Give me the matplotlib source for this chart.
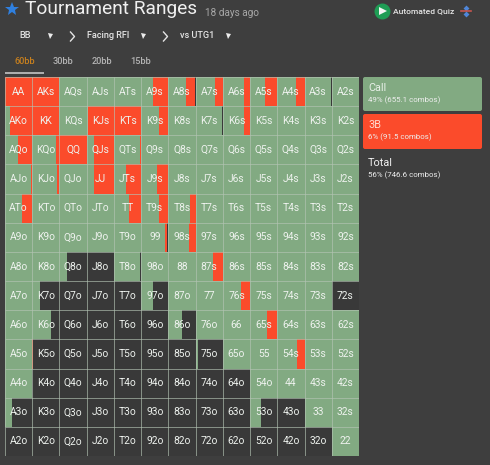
from matplotlib import pyplot as plt
from matplotlib.patches import FancyBboxPatch
import numpy as np

plt.rcParams['font.family'] = ['Roboto', 'DejaVu Sans']

ranks = ["A", "K", "Q", "J", "T", "9", "8", "7", "6", "5", "4", "3", "2"]

#Share of each cell that calls, row by row (order of bars in a cell: call, 3B, fold)
call_freq = [
    [0, 0, 1, 1, .98, .45, .65, .72, .78, .55, .70, .98, 1],
    [.17, 0, 1, .03, 0, .66, 1, .96, .78, 1, 1, 1, 1],
    [.48, .88, 0, .28, .95, 1, 1, 1, 1, 1, 1, 1, 1],
    [.95, .90, 1, .28, .44, .60, 1, 1, 1, 1, 1, 1, 1],
    [.62, .97, 1, 1, .55, .66, .78, 1, 1, 1, 1, 1, 1],
    [1, 1, 1, 1, 1, .86, .75, 1, 1, 1, 1, 1, 1],
    [1, 1, .27, 0, .95, .97, 1, .63, 1, 1, 1, 1, 1],
    [1, .30, 0, 0, 0, .45, 1, 1, .67, 1, 1, 1, 0],
    [1, .70, 0, 0, 0, 0, .50, 1, 1, .62, 1, 1, 1],
    [1, 0, 0, 0, 0, 0, 0, .08, 1, 1, .72, 1, 1],
    [1, 0, 0, 0, 0, 0, 0, 0, 0, 1, 1, 1, 1],
    [.27, 0, 0, 0, 0, 0, 0, 0, 0, .40, 0, 1, 1],
    [0, 0, 0, 0, 0, 0, 0, 0, 0, 0, 0, 0, 1],
]

#Share of each cell that 3bets
raise_freq = [
    [1, 1, 0, 0, .02, .52, .33, .28, .22, .45, .30, 0, 0],
    [.83, 1, 0, .97, 1, .34, 0, 0, .22, 0, 0, 0, 0],
    [.52, .10, 1, .72, .03, 0, 0, 0, 0, 0, 0, 0, 0],
    [.04, .09, 0, .72, .56, .38, 0, 0, 0, 0, 0, 0, 0],
    [.37, 0, 0, 0, .43, .32, .22, 0, 0, 0, 0, 0, 0],
    [0, 0, 0, 0, 0, .10, .25, 0, 0, 0, 0, 0, 0],
    [0, 0, 0, 0, 0, 0, 0, .37, 0, 0, 0, 0, 0],
    [0, 0, 0, 0, 0, 0, 0, 0, .33, 0, 0, 0, 0],
    [0, 0, 0, 0, 0, 0, 0, 0, 0, .38, 0, 0, 0],
    [0, .04, 0, 0, 0, 0, 0, 0, 0, 0, .28, 0, 0],
    [0, 0, 0, 0, 0, 0, 0, 0, 0, 0, 0, 0, 0],
    [0, 0, 0, 0, 0, 0, 0, 0, 0, 0, 0, 0, 0],
    [0, 0, 0, 0, 0, 0, 0, 0, 0, 0, 0, 0, 0],
]

menu_labels = ["BB", "Facing RFI", "vs UTG1"]
stack_labels = ["60bb", "30bb", "20bb", "15bb"]
legend_names = ["Call", "3B", "Total"]
legend_details = ["49% (655.1 combos)", "6% (91.5 combos)", "56% (746.6 combos)"]

bg = "#3e3e3e"
dark_cell = "#393939"
green = "#82aa82"
red = "#fb4b2b"
line_col = "#b4c4b4"
W, H = 490, 465


def hand_name(r, c):
    if r == c:
        return ranks[r] + ranks[c]
    if c > r:
        return ranks[r] + ranks[c] + "s"
    return ranks[c] + ranks[r] + "o"


fig = plt.figure(figsize=(W / 100, H / 100), dpi=100, facecolor=bg)

#Range grid, one unit per cell
ax = fig.add_axes([5 / W, 1 - 456 / H, 354 / W, 379 / H])
ax.set_facecolor(dark_cell)
ax.set_xlim(0, 13)
ax.set_ylim(13, 0)
ax.axis("off")

call_arr = np.array(call_freq)
raise_arr = np.array(raise_freq)
rows = np.arange(13)
for c in range(13):
    ax.barh(rows, np.ones(13), left=c, height=1, align="edge", color=dark_cell, linewidth=0)
    ax.barh(rows, call_arr[:, c], left=c, height=1, align="edge", color=green, linewidth=0)
    ax.barh(rows, raise_arr[:, c], left=c + call_arr[:, c], height=1, align="edge", color=red, linewidth=0)

ax.vlines(np.arange(14), 0, 13, color=line_col, linewidth=0.7, alpha=0.65)
ax.hlines(np.arange(14), 0, 13, color=line_col, linewidth=0.7, alpha=0.65)

for r in range(13):
    for c in range(13):
        ax.text(c + 0.5, r + 0.5, hand_name(r, c), color="#eef2ee", fontsize=7.4,
                ha="center", va="center")

#Everything around the grid is placed in pixels of the picture
ui = fig.add_axes([0, 0, 1, 1], facecolor="none")
ui.set_xlim(0, W)
ui.set_ylim(H, 0)
ui.axis("off")

#Header
ui.plot(12, 9.5, marker="*", markersize=10, color="#2f80e0", markeredgewidth=0)
ui.text(25, 9.5, "Tournament Ranges", color="#f0f0f0", fontsize=13.8, va="center")
ui.text(205, 13.5, "18 days ago", color="#a8a8a8", fontsize=7.2, va="center")
ui.plot(382, 11.5, marker="o", markersize=11.5, color="#1f9d55", markeredgewidth=0)
ui.plot(383, 11.5, marker=">", markersize=6, color="#f5f5f5", markeredgewidth=0)
ui.text(393, 11.5, "Automated Quiz", color="#e6e6e6", fontsize=6.1, va="center", fontweight="medium")
ui.plot(466, 8, marker="D", markersize=3, color="#4f86d8", markeredgewidth=0)
ui.plot(466, 14, marker="D", markersize=3, color="#4f86d8", markeredgewidth=0)
ui.plot([461, 471], [11.5, 11.5], color="#c8564f", linewidth=1.2)

#Menu row
menu_x = [19, 86.5, 179.5]
caret_x = [50, 142.5, 227.5]
chevron_x = [72.5, 165.5]
for x, label in zip(menu_x, menu_labels):
    ui.text(x, 36, label, color="#e4e4e4", fontsize=6.6, va="center", fontweight="medium")
for x in caret_x:
    ui.plot(x, 36, marker="v", markersize=3.6, color="#ececec", markeredgewidth=0)
for x in chevron_x:
    ui.plot([x - 2, x + 2, x - 2], [32, 36.5, 41], color="#e4e4e4", linewidth=1)

#Stack depth tabs
tab_x = [24.5, 63, 102, 141]
for i, (x, label) in enumerate(zip(tab_x, stack_labels)):
    ui.text(x, 61, label, color="#c8801e" if i == 0 else "#b4b4b4", fontsize=6.6,
            ha="center", va="center", fontweight="medium")
ui.plot([5, 44], [73.5, 73.5], color="#c4c4c4", linewidth=1.2, solid_capstyle="butt")

#Legend panel
box_y = [(77, 111), (114, 149)]
box_col = [green, red]
for (y0, y1), col in zip(box_y, box_col):
    ui.add_patch(FancyBboxPatch((364, y0 + 1), 117, y1 - y0 - 2,
                                boxstyle="round,pad=1,rounding_size=2", facecolor=col, linewidth=0))

name_y = [88, 125, 163]
detail_y = [100, 137, 175]
name_col = ["#e8f0e8", "#ffd8cc", "#f0f0f0"]
for i in range(3):
    ui.text(368, name_y[i], legend_names[i], color=name_col[i], fontsize=7.8, va="center")
    ui.text(368, detail_y[i], legend_details[i], color="#eeeeee", fontsize=5.7, va="center")

fig.savefig("out.png", dpi=100, facecolor=bg)
